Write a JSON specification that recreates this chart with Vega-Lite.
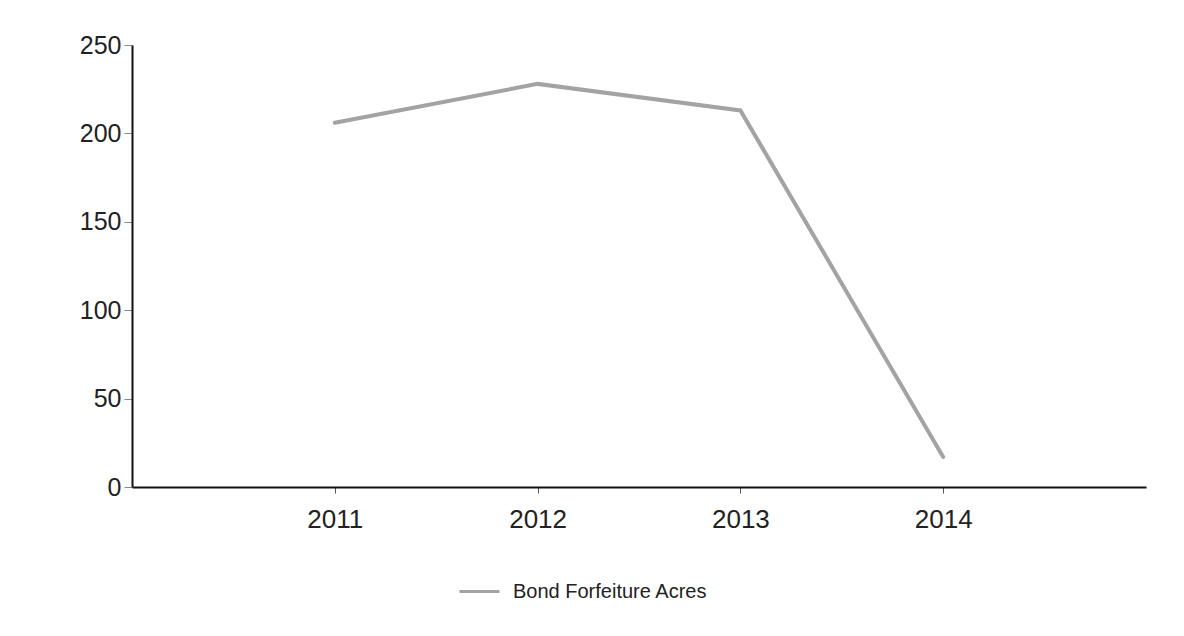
{
  "$schema": "https://vega.github.io/schema/vega-lite/v6.json",
  "autosize": "none",
  "padding": {"left": 132, "top": 45, "right": 38, "bottom": 149},
  "width": 1014,
  "height": 442,
  "background": "white",
  "config": {
    "view": {"stroke": null},
    "font": "Liberation Sans"
  },
  "data": {
    "values": [
      {"year": 2011, "value": 206, "series": "Bond Forfeiture Acres"},
      {"year": 2012, "value": 228, "series": "Bond Forfeiture Acres"},
      {"year": 2013, "value": 213, "series": "Bond Forfeiture Acres"},
      {"year": 2014, "value": 17, "series": "Bond Forfeiture Acres"}
    ]
  },
  "mark": {"type": "line", "strokeWidth": 4, "strokeCap": "round"},
  "encoding": {
    "x": {
      "field": "year",
      "type": "quantitative",
      "scale": {"domain": [2010, 2015], "nice": false, "zero": false},
      "axis": {
        "values": [2011, 2012, 2013, 2014],
        "format": "d",
        "title": null,
        "grid": false,
        "domainColor": "#111",
        "domainWidth": 2,
        "tickColor": "#555",
        "tickSize": 6,
        "labelFontSize": 26,
        "labelColor": "#222",
        "labelPadding": 13
      }
    },
    "y": {
      "field": "value",
      "type": "quantitative",
      "scale": {"domain": [0, 250], "nice": false},
      "axis": {
        "values": [0, 50, 100, 150, 200, 250],
        "title": null,
        "grid": false,
        "domainColor": "#111",
        "domainWidth": 2,
        "tickColor": "#888",
        "tickSize": 8,
        "labelFontSize": 25,
        "labelColor": "#222",
        "labelPadding": 3
      }
    },
    "color": {
      "field": "series",
      "type": "nominal",
      "scale": {"range": ["#a3a3a3"]},
      "legend": {
        "title": null,
        "orient": "none",
        "legendX": 326,
        "legendY": 525,
        "symbolType": "stroke",
        "symbolSize": 1600,
        "symbolStrokeWidth": 3,
        "labelFontSize": 20,
        "labelLimit": 400,
        "labelColor": "#222",
        "labelOffset": 12
      }
    }
  }
}
